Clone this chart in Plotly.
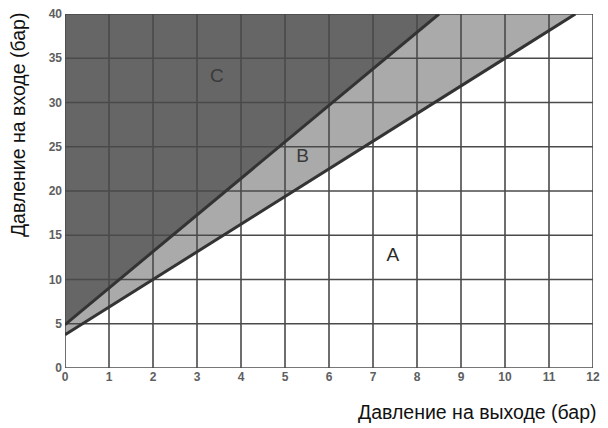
import plotly.graph_objects as go

# граничные линии (давление на выходе -> давление на входе)
upper_x = [0, 8.5]
upper_y = [4.9, 40]
lower_x = [0, 11.6]
lower_y = [3.75, 40]

x_ticks = list(range(0, 13))
y_ticks = list(range(0, 41, 5))

zones = ["A", "B", "C"]
zone_x = [7.45, 5.4, 3.45]
zone_y = [12.6, 23.8, 32.9]

X_MAX, Y_MAX = 12, 40
GRID = "#4a4a4a"
LINE = "#333333"

fig = go.Figure()

# зона C (тёмная)
fig.add_trace(go.Scatter(
    x=[upper_x[0], upper_x[1], 0, upper_x[0]],
    y=[upper_y[0], upper_y[1], Y_MAX, upper_y[0]],
    fill="toself", fillcolor="#666666", mode="none", hoverinfo="skip",
))
# зона B (светлая)
fig.add_trace(go.Scatter(
    x=[lower_x[0], lower_x[1], upper_x[1], upper_x[0], lower_x[0]],
    y=[lower_y[0], lower_y[1], upper_y[1], upper_y[0], lower_y[0]],
    fill="toself", fillcolor="#aaaaaa", mode="none", hoverinfo="skip",
))

# сетка поверх заливки
gx, gy = [], []
for t in x_ticks:
    gx += [t, t, None]
    gy += [0, Y_MAX, None]
for t in y_ticks:
    gx += [0, X_MAX, None]
    gy += [t, t, None]
fig.add_trace(go.Scatter(
    x=gx, y=gy, mode="lines", line=dict(color=GRID, width=1.6), hoverinfo="skip",
))

# граничные линии
for lx, ly in [(upper_x, upper_y), (lower_x, lower_y)]:
    fig.add_trace(go.Scatter(
        x=lx, y=ly, mode="lines", line=dict(color=LINE, width=3), hoverinfo="skip",
    ))

# подписи зон
fig.add_trace(go.Scatter(
    x=zone_x, y=zone_y, mode="text", text=zones,
    textfont=dict(family="Liberation Sans", size=19, color=["#2a2a2a", "#3a3a3a", "#3a3a3a"]),
    hoverinfo="skip",
))

tick_font = dict(family="Liberation Sans", size=12, color="#5e5e5e", weight="bold")
fig.update_xaxes(
    range=[0, X_MAX], tickvals=x_ticks, showgrid=False, zeroline=False,
    showline=False, ticks="", tickfont=tick_font, ticklabeloverflow="allow",
    automargin=False,
)
fig.update_yaxes(
    range=[0, Y_MAX], tickvals=y_ticks, showgrid=False, zeroline=False,
    showline=False, ticks="", tickfont=tick_font, ticklabelstandoff=2,
    ticklabeloverflow="allow", automargin=False,
)

# у страницы отступ 8px, поэтому фигура 592x420
title_font = dict(family="Liberation Sans", size=19.5, color="#111111")
fig.update_layout(
    width=592, height=420,
    margin=dict(l=57, r=7, t=6, b=60),
    paper_bgcolor="white", plot_bgcolor="white",
    showlegend=False,
    annotations=[
        dict(text="Давление на выходе (бар)", xref="paper", yref="paper",
             x=1.012, y=-0.124, xanchor="right", yanchor="middle",
             showarrow=False, font=title_font),
        dict(text="Давление на входе (бар)", xref="paper", yref="paper",
             x=-0.09, y=1.011, xanchor="center", yanchor="top", textangle=-90,
             showarrow=False, font=title_font),
    ],
)

fig.write_html("out.html")
